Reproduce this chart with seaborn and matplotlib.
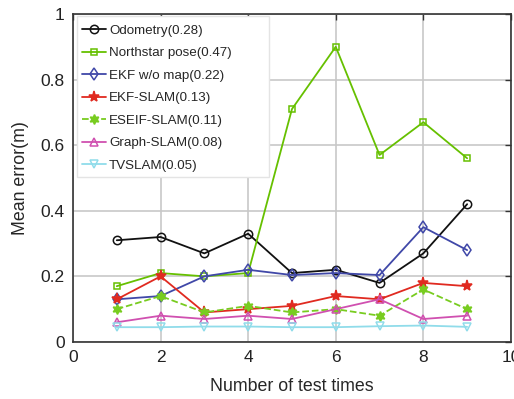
import numpy as np
import pandas as pd
import matplotlib
matplotlib.use("Agg")
import matplotlib.pyplot as plt
from matplotlib.patches import Rectangle
import seaborn as sns

tests = [1, 2, 3, 4, 5, 6, 7, 8, 9]
odometry = [0.31, 0.32, 0.27, 0.33, 0.21, 0.22, 0.18, 0.27, 0.42]
northstar = [0.17, 0.21, 0.20, 0.21, 0.71, 0.90, 0.57, 0.67, 0.56]
ekf_nomap = [0.13, 0.14, 0.20, 0.22, 0.204, 0.21, 0.204, 0.35, 0.28]
ekf_slam = [0.13, 0.20, 0.09, 0.10, 0.11, 0.14, 0.13, 0.18, 0.17]
eseif_slam = [0.10, 0.14, 0.09, 0.11, 0.09, 0.10, 0.08, 0.16, 0.10]
graph_slam = [0.06, 0.08, 0.07, 0.08, 0.07, 0.10, 0.13, 0.07, 0.08]
tvslam = [0.045, 0.045, 0.047, 0.047, 0.045, 0.045, 0.048, 0.05, 0.046]
labels = ["Odometry(0.28)", "Northstar pose(0.47)", "EKF w/o map(0.22)", "EKF-SLAM(0.13)",
          "ESEIF-SLAM(0.11)", "Graph-SLAM(0.08)", "TVSLAM(0.05)"]

series = [odometry, northstar, ekf_nomap, ekf_slam, eseif_slam, graph_slam, tvslam]
styles = [
    dict(color="#111111", marker="o", mfc="none", ls="-", ms=6),
    dict(color="#66c000", marker="s", mfc="none", ls="-", ms=5),
    dict(color="#4048a8", marker="d", mfc="none", ls="-", ms=6),
    dict(color="#e02a20", marker="*", mfc="#e02a20", ls="-", ms=8),
    dict(color="#78cc20", marker=(6, 1, 0), mfc="#78cc20", ls="--", ms=7),
    dict(color="#d050b0", marker="^", mfc="none", ls="-", ms=6),
    dict(color="#90dcea", marker="v", mfc="none", ls="-", ms=6),
]

sns.set_style("white")
plt.rcParams["font.family"] = ["Liberation Sans", "DejaVu Sans"]

fig = plt.figure(figsize=(5.14, 3.99), dpi=100)
ax = fig.add_axes([0.142, 0.143, 0.852, 0.822])

for vals, lab, st in zip(series, labels, styles):
    df = pd.DataFrame({"x": tests, "y": vals})
    sns.lineplot(data=df, x="x", y="y", ax=ax, label=lab, color=st["color"],
                 marker=st["marker"], markersize=st["ms"], markerfacecolor=st["mfc"],
                 markeredgecolor=st["color"], markeredgewidth=1.1, linestyle=st["ls"],
                 linewidth=1.3)

ax.set_xlim(0, 10)
ax.set_ylim(0, 1)
ax.set_xticks([0, 2, 4, 6, 8, 10])
ax.set_yticks([0, 0.2, 0.4, 0.6, 0.8, 1])
ax.set_yticklabels(["0", "0.2", "0.4", "0.6", "0.8", "1"])
ax.grid(True, color="#c8c8c8", linewidth=1.2)
ax.set_axisbelow(True)
for s in ax.spines.values():
    s.set_color("#333333")
    s.set_linewidth(1.2)
ax.tick_params(direction="in", length=4, width=1, colors="#333333", labelsize=12.5,
               top=True, right=True, labelcolor="#222222", pad=6)
ax.set_xlabel("Number of test times", fontsize=12.8, labelpad=9)
ax.set_ylabel("Mean error(m)", fontsize=12.8, labelpad=8)

# matlab-style legend box, wider than its text
box = Rectangle((0.009, 0.503), 0.439, 0.491, transform=ax.transAxes, facecolor="white",
                edgecolor="#e4e4e4", linewidth=1, zorder=4.5)
ax.add_patch(box)
leg = ax.legend(loc="upper left", bbox_to_anchor=(0.009, 0.982), fontsize=9.6,
                frameon=False, borderpad=0.35, labelspacing=0.76,
                handlelength=1.8, handletextpad=0.25, borderaxespad=0)

fig.savefig("out.png", dpi=100)
